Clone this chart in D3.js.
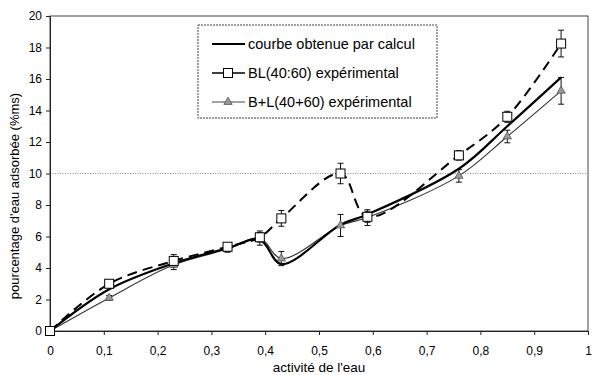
<!DOCTYPE html>
<html><head><meta charset="utf-8">
<script src="https://cdn.jsdelivr.net/npm/d3@7/dist/d3.min.js"></script>
<style>body{margin:0;background:#fff}svg text{font-family:"Liberation Sans",Arial,sans-serif;fill:#000}</style>
</head><body><svg id="c" width="594" height="375"></svg>
<script>
const xTicks=[0,0.1,0.2,0.3,0.4,0.5,0.6,0.7,0.8,0.9,1];
const yTicks=[0,2,4,6,8,10,12,14,16,18,20];
const seriesNames=["courbe obtenue par calcul","BL(40:60) expérimental","B+L(40+60) expérimental"];
const calcX=[0,0.11,0.23,0.33,0.39,0.43,0.54,0.59,0.76,0.85,0.95];
const calcY=[0,2.65,4.3,5.25,5.8,4.25,6.75,7.4,10.3,13.0,16.1];
const expX=[0,0.11,0.23,0.33,0.39,0.43,0.54,0.59,0.76,0.85,0.95];
const blY=[0,3.0,4.45,5.35,5.95,7.15,10.0,7.25,11.15,13.6,18.25];
const blErr=[0,0.15,0.4,0.2,0.3,0.5,0.65,0.35,0.3,0.35,0.85];
const blpY=[0,2.1,4.2,5.2,5.9,4.6,6.7,7.2,9.85,12.35,15.25];
const blpErr=[0,0.15,0.3,0.2,0.45,0.45,0.7,0.5,0.4,0.4,0.85];

const svg=d3.select("#c");
const L=50,R=588,T=16,B=331;
const x=d3.scaleLinear().domain([0,1]).range([L,R]);
const y=d3.scaleLinear().domain([0,20]).range([B,T]);

// frame
svg.append("rect").attr("x",L).attr("y",T).attr("width",R-L).attr("height",B-T)
  .attr("fill","none").attr("stroke","#444").attr("stroke-width",1);
// gridline at 10
svg.append("line").attr("x1",L).attr("x2",R).attr("y1",y(10)).attr("y2",y(10))
  .attr("stroke","#888").attr("stroke-dasharray","1,1.5").attr("stroke-width",1);

const fmt=d=>String(d).replace(".",",");
const xa=svg.append("g").attr("transform",`translate(0,${B})`)
  .call(d3.axisBottom(x).tickValues(xTicks).tickFormat(fmt).tickSize(4).tickPadding(11));
const ya=svg.append("g").attr("transform",`translate(${L},0)`)
  .call(d3.axisLeft(y).tickValues(yTicks).tickFormat(d3.format("d")).tickSize(4).tickPadding(4));
[xa,ya].forEach(a=>{a.selectAll("text").style("font-size","12px");a.select(".domain").attr("stroke","#222");a.selectAll(".tick line").attr("stroke","#222");});

svg.append("text").attr("x",(L+R)/2).attr("y",372).attr("text-anchor","middle")
  .style("font-size","13.5px").text("activité de l'eau");
svg.append("text").attr("transform",`translate(19,196) rotate(-90)`).attr("text-anchor","middle")
  .style("font-size","13px").text("pourcentage d'eau adsorbée (%ms)");

const line=d3.line().x(d=>x(d[0])).y(d=>y(d[1])).curve(d3.curveCatmullRom.alpha(0.5));
const g=svg.append("g");
// triangle series line
g.append("path").attr("d",line(d3.zip(expX,blpY))).attr("fill","none").attr("stroke","#333").attr("stroke-width",1.1);
// calc curve
g.append("path").attr("d",line(d3.zip(calcX,calcY))).attr("fill","none").attr("stroke","#000").attr("stroke-width",2.2);
// BL dashed
g.append("path").attr("d",line(d3.zip(expX,blY))).attr("fill","none").attr("stroke","#000").attr("stroke-width",2).attr("stroke-dasharray","10,6");

function errBars(xs,ys,es,stroke){
  xs.forEach((xv,i)=>{ if(!es[i]) return;
    const cx=x(xv),y1=y(ys[i]-es[i]),y2=y(ys[i]+es[i]);
    g.append("line").attr("x1",cx).attr("x2",cx).attr("y1",y1).attr("y2",y2).attr("stroke",stroke).attr("stroke-width",1);
    [y1,y2].forEach(yy=>g.append("line").attr("x1",cx-3).attr("x2",cx+3).attr("y1",yy).attr("y2",yy).attr("stroke",stroke).attr("stroke-width",1));
  });
}
errBars(expX,blpY,blpErr,"#111");
errBars(expX,blY,blErr,"#111");
const tri=d3.symbol().type(d3.symbolTriangle).size(30);
expX.forEach((xv,i)=>g.append("path").attr("d",tri()).attr("transform",`translate(${x(xv)},${y(blpY[i])})`)
  .attr("fill","#999").attr("stroke","#555").attr("stroke-width",0.8));
expX.forEach((xv,i)=>g.append("rect").attr("x",x(xv)-4.5).attr("y",y(blY[i])-4.5).attr("width",9).attr("height",9)
  .attr("fill","#fff").attr("stroke","#000").attr("stroke-width",1));

// legend
const lg=svg.append("g");
lg.append("rect").attr("x",198).attr("y",25).attr("width",239).attr("height",93)
  .attr("fill","#fff").attr("stroke","#444").attr("stroke-dasharray","2,1").attr("stroke-width",1);
const rows=[44,73,102];
const lx1=212,lx2=245,mx=228;
lg.append("line").attr("x1",lx1).attr("x2",lx2).attr("y1",rows[0]).attr("y2",rows[0]).attr("stroke","#000").attr("stroke-width",2.2);
lg.append("line").attr("x1",lx1).attr("x2",lx2).attr("y1",rows[1]).attr("y2",rows[1]).attr("stroke","#000").attr("stroke-width",1.6);
lg.append("rect").attr("x",mx-4.5).attr("y",rows[1]-4.5).attr("width",9).attr("height",9).attr("fill","#fff").attr("stroke","#000");
lg.append("line").attr("x1",lx1).attr("x2",lx2).attr("y1",rows[2]).attr("y2",rows[2]).attr("stroke","#444").attr("stroke-width",1.1);
lg.append("path").attr("d",tri()).attr("transform",`translate(${mx},${rows[2]})`).attr("fill","#999").attr("stroke","#555").attr("stroke-width",0.8);
seriesNames.forEach((n,i)=>lg.append("text").attr("x",248).attr("y",rows[i]).attr("dy","0.35em").style("font-size","14.5px").text(n));
</script></body></html>
